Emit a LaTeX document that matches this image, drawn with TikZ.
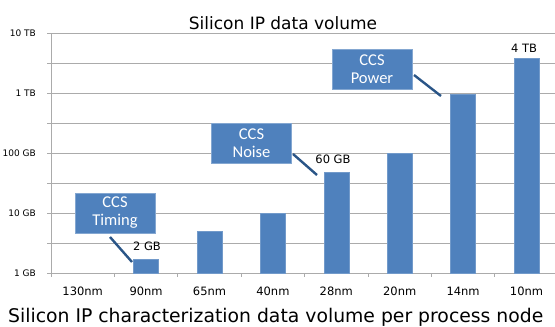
\documentclass[tikz,border=0pt]{standalone}
\usepackage{fontspec}
\setmainfont{DejaVu Sans}
\newfontfamily\boxfont{Carlito}
\definecolor{barblue}{HTML}{4F81BD}
\definecolor{linkblue}{HTML}{2A5587}
\definecolor{gridgray}{HTML}{ABABAB}
\begin{document}
\begin{tikzpicture}[x=1pt,y=-1pt,
  grid/.style={draw=gridgray,line width=0.9pt},
  bar/.style={fill=barblue,draw=barblue!80!white,line width=0.4pt},
  callout/.style={fill=barblue,draw=barblue!70!white,line width=0.6pt,minimum width=80pt,minimum height=40pt,inner sep=0pt,text=white,align=center,font=\boxfont\fontsize{16.5}{19}\selectfont},
  link/.style={draw=linkblue,line width=2.4pt},
  ylab/.style={anchor=east,inner sep=0pt,font=\fontsize{9}{10}\selectfont},
  xlab/.style={inner sep=0pt,font=\fontsize{11.5}{13}\selectfont},
  vlab/.style={inner sep=0pt,font=\fontsize{11.5}{13}\selectfont}]
\useasboundingbox (0,0) rectangle (555,327);
\fill[white] (0,0) rectangle (555,327);
% gridlines
\foreach \gy in {33,63,93,123,153,183,213,243}{
  \draw[grid] (47,\gy) -- (555,\gy);
}
\draw[grid] (51,33) -- (51,273);
\draw[grid] (47,273) -- (555,273);
\foreach \k in {0,...,7}{
  \draw[grid] ({51+63.4*\k},273) -- ({51+63.4*\k},277);
}
% y labels
\node[ylab] (y1) at (36,33) {10 TB};
\node[ylab] (y2) at (36,93) {1 TB};
\node[ylab] (y3) at (36,153) {100 GB};
\node[ylab] (y4) at (36,213) {10 GB};
\node[ylab] (y5) at (36,273) {1 GB};
% bars
\foreach \k/\top in {1/259,2/231,3/213,4/172,5/153,6/94,7/58}{
  \path[bar] ({51+63.4*\k+19.2},\top) rectangle ({51+63.4*\k+44.2},273);
}
% x labels
\foreach \k/\lab in {0/130nm,1/90nm,2/65nm,3/40nm,4/28nm,5/20nm,6/14nm,7/10nm}{
  \node[xlab] (x\k) at ({51+63.4*\k+31.7},291) {\lab};
}
% value labels
\node[vlab] (v1) at (147,246) {2 GB};
\node[vlab] (v2) at (333,159) {60 GB};
\node[vlab] (v3) at (524,48) {4 TB};
% callouts
\node[callout] (timing) at (115,213) {CCS\\[-1pt]Timing};
\node[callout] (noise) at (251.5,143) {CCS\\[-1pt]Noise};
\node[callout] (power) at (372,69) {CCS\\[-1pt]Power};
\coordinate (t1) at (110,237); \coordinate (t2) at (132,262);
\coordinate (n1) at (293,154); \coordinate (n2) at (317,175);
\coordinate (p1) at (414,75); \coordinate (p2) at (441,96);
\draw[link] (t1) -- (t2);
\draw[link] (n1) -- (n2);
\draw[link] (p1) -- (p2);
% title and caption
\node[anchor=base,inner sep=0pt,font=\fontsize{17}{19}\selectfont] (title) at (283,29) {Silicon IP data volume};
\node[anchor=base west,inner sep=0pt,font=\fontsize{18.8}{22}\selectfont] (caption) at (8,322) {Silicon IP characterization data volume per process node};
\end{tikzpicture}
\end{document}
